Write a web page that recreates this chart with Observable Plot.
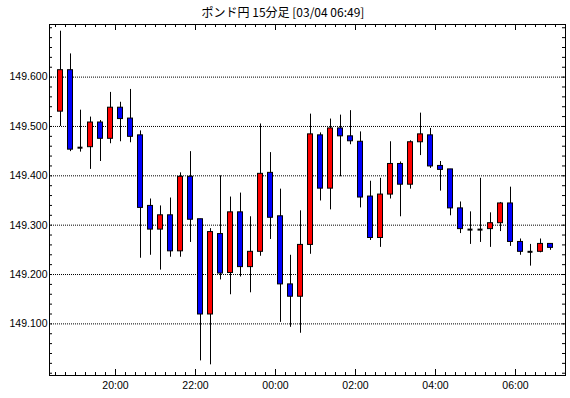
<!DOCTYPE html>
<html><head><meta charset="utf-8">
<script src="https://cdn.jsdelivr.net/npm/d3@7"></script>
<script src="https://cdn.jsdelivr.net/npm/@observablehq/plot@0.6"></script>
<style>body{margin:0;background:#fff} svg{display:block}</style>
</head><body><div id="chart"></div>
<script>
const title = "ポンド円 15分足 [03/04 06:49]";
const times = [
 "03/03 18:30","03/03 18:45","03/03 19:00","03/03 19:15","03/03 19:30","03/03 19:45","03/03 20:00","03/03 20:15","03/03 20:30","03/03 20:45",
 "03/03 21:00","03/03 21:15","03/03 21:30","03/03 21:45","03/03 22:00","03/03 22:15","03/03 22:30","03/03 22:45","03/03 23:00","03/03 23:15",
 "03/03 23:30","03/03 23:45","03/04 00:00","03/04 00:15","03/04 00:30","03/04 00:45","03/04 01:00","03/04 01:15","03/04 01:30","03/04 01:45",
 "03/04 02:00","03/04 02:15","03/04 02:30","03/04 02:45","03/04 03:00","03/04 03:15","03/04 03:30","03/04 03:45","03/04 04:00","03/04 04:15",
 "03/04 04:30","03/04 04:45","03/04 05:00","03/04 05:15","03/04 05:30","03/04 05:45","03/04 06:00","03/04 06:15","03/04 06:30","03/04 06:45"];
const opens = [149.530,149.614,149.457,149.458,149.508,149.475,149.538,149.516,149.482,149.339,
 149.291,149.320,149.247,149.398,149.312,149.119,149.282,149.203,149.326,149.215,
 149.246,149.406,149.318,149.180,149.155,149.260,149.482,149.374,149.496,149.480,
 149.469,149.358,149.274,149.362,149.424,149.382,149.468,149.482,149.420,149.413,
 149.334,149.291,149.291,149.292,149.304,149.344,149.266,149.246,149.246,149.262];
const highs = [149.693,149.647,149.533,149.519,149.512,149.569,149.549,149.575,149.491,149.353,
 149.339,149.355,149.406,149.449,149.312,149.293,149.400,149.357,149.365,149.317,
 149.505,149.447,149.373,149.239,149.329,149.525,149.487,149.515,149.523,149.532,
 149.489,149.389,149.395,149.469,149.428,149.471,149.527,149.496,149.429,149.413,
 149.347,149.327,149.395,149.325,149.346,149.377,149.272,149.261,149.272,149.262];
const lows = [149.500,149.449,149.448,149.413,149.429,149.465,149.469,149.467,149.233,149.239,
 149.209,149.235,149.235,149.265,149.025,149.017,149.189,149.159,149.195,149.163,
 149.237,149.271,149.103,149.093,149.081,149.241,149.349,149.331,149.398,149.463,
 149.335,149.269,149.255,149.353,149.317,149.373,149.441,149.415,149.369,149.319,
 149.283,149.261,149.265,149.255,149.287,149.257,149.239,149.217,149.244,149.249];
const closes = [149.614,149.453,149.457,149.508,149.475,149.538,149.515,149.479,149.335,149.291,
 149.320,149.247,149.398,149.311,149.119,149.286,149.202,149.326,149.215,149.246,
 149.404,149.315,149.180,149.155,149.260,149.484,149.374,149.496,149.480,149.470,
 149.356,149.274,149.362,149.424,149.382,149.468,149.484,149.419,149.412,149.334,
 149.292,149.291,149.291,149.304,149.344,149.266,149.246,149.246,149.262,149.254];
const yTickValues = [149.1,149.2,149.3,149.4,149.5,149.6];
const xTickLabels = ["03/03 20:00","03/03 22:00","03/04 00:00","03/04 02:00","03/04 04:00","03/04 06:00"];
const xDomain = ["03/03 18:21","03/04 07:15"];
const yDomain = [148.9954,149.7066];
const upColor = "#ff0000", downColor = "#0000ff";

const parse = s => d3.utcParse("%Y/%m/%d %H:%M")("2025/" + s);
const MIN = 60000;
const candles = times.map((t,i)=>{
  const s = +parse(t);
  return {c:new Date(s+7.5*MIN), x1:new Date(s+3.75*MIN), x2:new Date(s+11.25*MIN),
    o:opens[i], h:highs[i], l:lows[i], cl:closes[i]};
});
const bodies = candles.filter(d=>d.o!==d.cl);
const dojis = candles.filter(d=>d.o===d.cl);
const xMajor = xTickLabels.map(parse);
const xMinor = times.map(parse).concat([parse("03/04 07:00")]);
const yMinor = d3.range(0,36).map(i=>+(149.0+i*0.02).toFixed(2));

const W=570,H=398,mL=49,mR=5,mT=24,mB=23;
const plotH=H-mT-mB, plotW=W-mL-mR;
const chart = Plot.plot({
  width:W,height:H,marginLeft:mL,marginRight:mR,marginTop:mT,marginBottom:mB,
  style:{fontFamily:"'Liberation Sans', Arial, sans-serif",fontSize:"10.5px",color:"black",background:"white",overflow:"visible"},
  x:{type:"utc",domain:xDomain.map(parse),axis:null},
  y:{domain:yDomain,axis:null},
  color:{type:"identity"},
  marks:[
    Plot.ruleY(yTickValues,{stroke:"black",strokeDasharray:"1,1"}),
    Plot.ruleY(yMinor,{stroke:"black",insetRight:plotW-3}),
    Plot.ruleY(yMinor,{stroke:"black",insetLeft:plotW-3}),
    Plot.ruleX(xMinor,{stroke:"black",insetTop:plotH-3}),
    Plot.ruleX(xMinor,{stroke:"black",insetBottom:plotH-3}),
    Plot.ruleX(xMajor,{stroke:"black",insetTop:plotH-6}),
    Plot.ruleX(xMajor,{stroke:"black",insetBottom:plotH-6}),
    Plot.axisY(yTickValues,{anchor:"left",tickSize:0,tickPadding:2,tickFormat:d3.format(".3f")}),
    Plot.axisX(xMajor,{anchor:"bottom",tickSize:0,tickPadding:6,tickFormat:d3.utcFormat("%H:%M")}),
    Plot.ruleX(candles,{x:"c",y1:"l",y2:"h",stroke:"black"}),
    Plot.rect(bodies,{x1:"x1",x2:"x2",y1:"o",y2:"cl",fill:d=>d.cl>d.o?upColor:downColor,stroke:"black"}),
    Plot.ruleY(dojis,{y:"o",x1:"x1",x2:"x2",stroke:"black",strokeWidth:2}),
    Plot.frame({stroke:"black"})
  ]
});
d3.select(chart).append("text").attr("x",283).attr("y",17).attr("text-anchor","middle")
  .attr("font-family","'Noto Sans CJK JP', sans-serif").attr("font-size",12).attr("fill","black").text(title);
document.getElementById("chart").appendChild(chart);
</script></body></html>
